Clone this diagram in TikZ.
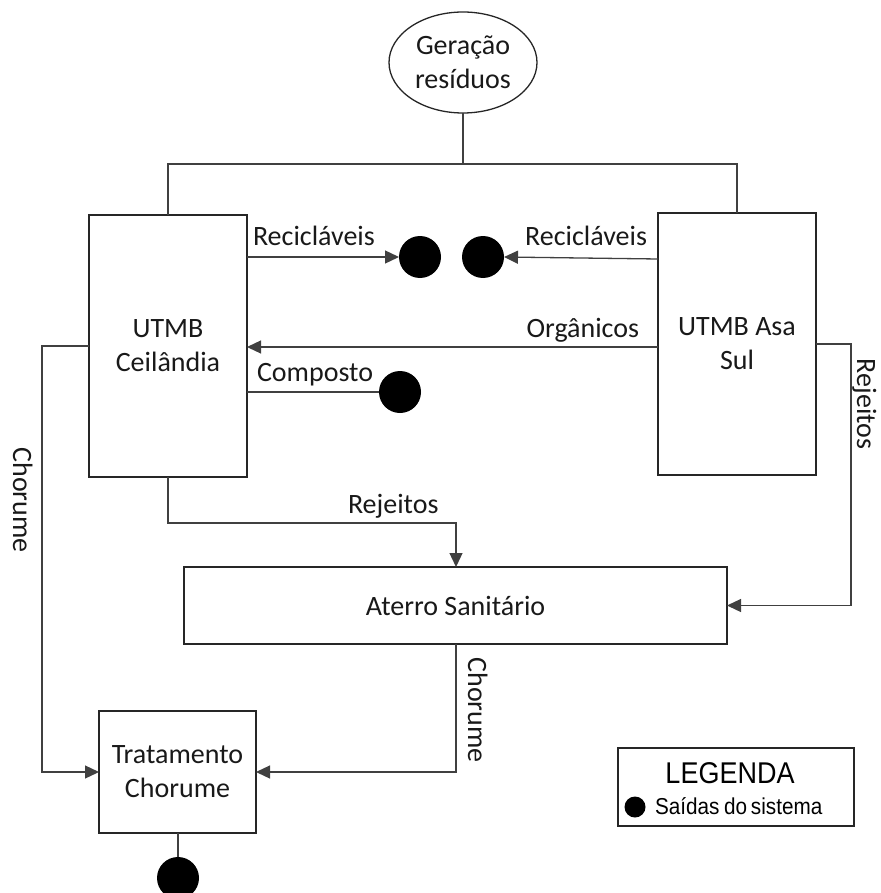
\documentclass[tikz,border=0pt]{standalone}
\usepackage{fontspec}
\setmainfont{Carlito}
\newfontfamily\legfont[FakeStretch=0.9]{Liberation Sans}
\usetikzlibrary{arrows.meta,shapes.geometric}

\begin{document}
\begin{tikzpicture}[x=1pt,y=-1pt,
  every node/.style={inner sep=0pt,outer sep=0pt},
  txt/.style={font=\fontsize{28}{34}\selectfont,text=black!90},
  box/.style={draw=black!85,line width=1.3pt,txt,align=center},
  conn/.style={draw=black!75,line width=1.3pt},
  arr/.style={conn,-{Triangle[length=14pt,width=13pt]}},
  dot/.style={circle,fill=black,minimum size=42pt},
  lbl/.style={txt}
]
\useasboundingbox (0,0) rectangle (880,893);

% process blocks
\node[box,ellipse,minimum width=148pt,minimum height=101pt] (gen) at (463,62.5) {Geração\\resíduos};
\node[box,minimum width=158pt,minimum height=262pt] (ceil) at (168,346) {UTMB\\Ceilândia};
\node[box,minimum width=158pt,minimum height=262pt] (asa) at (737,344) {UTMB Asa\\Sul};
\node[box,minimum width=543pt,minimum height=77pt] (aterro) at (455.5,605.5) {Aterro Sanitário};
\node[box,minimum width=157pt,minimum height=122pt] (trat) at (177.5,772) {Tratamento\\Chorume};

% system outputs
\node[dot] (d1) at (420,257) {};
\node[dot] (d2) at (483,257) {};
\node[dot] (d3) at (400,392) {};
\node[dot] (d4) at (178,878) {};

% helper points for routed connectors
\coordinate (split) at (463,164);
\coordinate (rj) at (456,523);
\coordinate (ch) at (456,772);
\coordinate (org) at ([yshift=-3pt]asa.west);

% distribution from waste generation
\draw[conn] (gen.south) -- (split);
\draw[conn] (ceil.north) |- (split) -| (asa.north);

% recyclables
\draw[arr] (ceil.east |- d1) -- (d1.west);
\draw[arr] ([yshift=-2pt]asa.west |- d2) -- (d2.east);
\node[lbl,anchor=base west] (lr1) at (253,245) {Recicláveis};
\node[lbl,anchor=base east] (lr2) at (647,245) {Recicláveis};

% organics and compost
\draw[arr] (org) -- (org -| ceil.east);
\node[lbl,anchor=base east] (lorg) at (639,337) {Orgânicos};
\draw[conn] (ceil.east |- d3) -- (d3.west);
\node[lbl,anchor=base west] (lcomp) at (257,381) {Composto};

% rejects to landfill
\draw[arr] (ceil.south) |- (rj) -- (rj |- aterro.north);
\node[lbl,anchor=base west] (lrej1) at (348,513) {Rejeitos};
\draw[arr] (asa.east) -- ++(35,0) |- (aterro.east);
\node[lbl,rotate=-90,anchor=base] (lrej2) at (857,404) {Rejeitos};

% leachate
\draw[arr] (ceil.west) -- ++(-47,0) |- (trat.west);
\node[lbl,rotate=-90,anchor=base] (lch1) at (13,500) {Chorume};
\draw[arr] (ch |- aterro.south) -- (ch) -- (trat.east);
\node[lbl,rotate=-90,anchor=base] (lch2) at (468,710) {Chorume};
\draw[conn] (trat.south -| d4) -- (d4.north);

% legend
\node[draw=black!85,line width=1.3pt,minimum width=236pt,minimum height=78pt] (leg) at (736,787) {};
\node[font=\legfont\fontsize{30}{34}\selectfont,anchor=base] (legt) at (730,783) {LEGENDA};
\node[circle,fill=black,minimum size=21pt] (legd) at (635,807) {};
\node[font=\legfont\fontsize{23}{26}\selectfont,anchor=base west] (legs) at (655,814) {Saídas\hspace{-1pt} do\hspace{-2pt} sistema};
\end{tikzpicture}
\end{document}
